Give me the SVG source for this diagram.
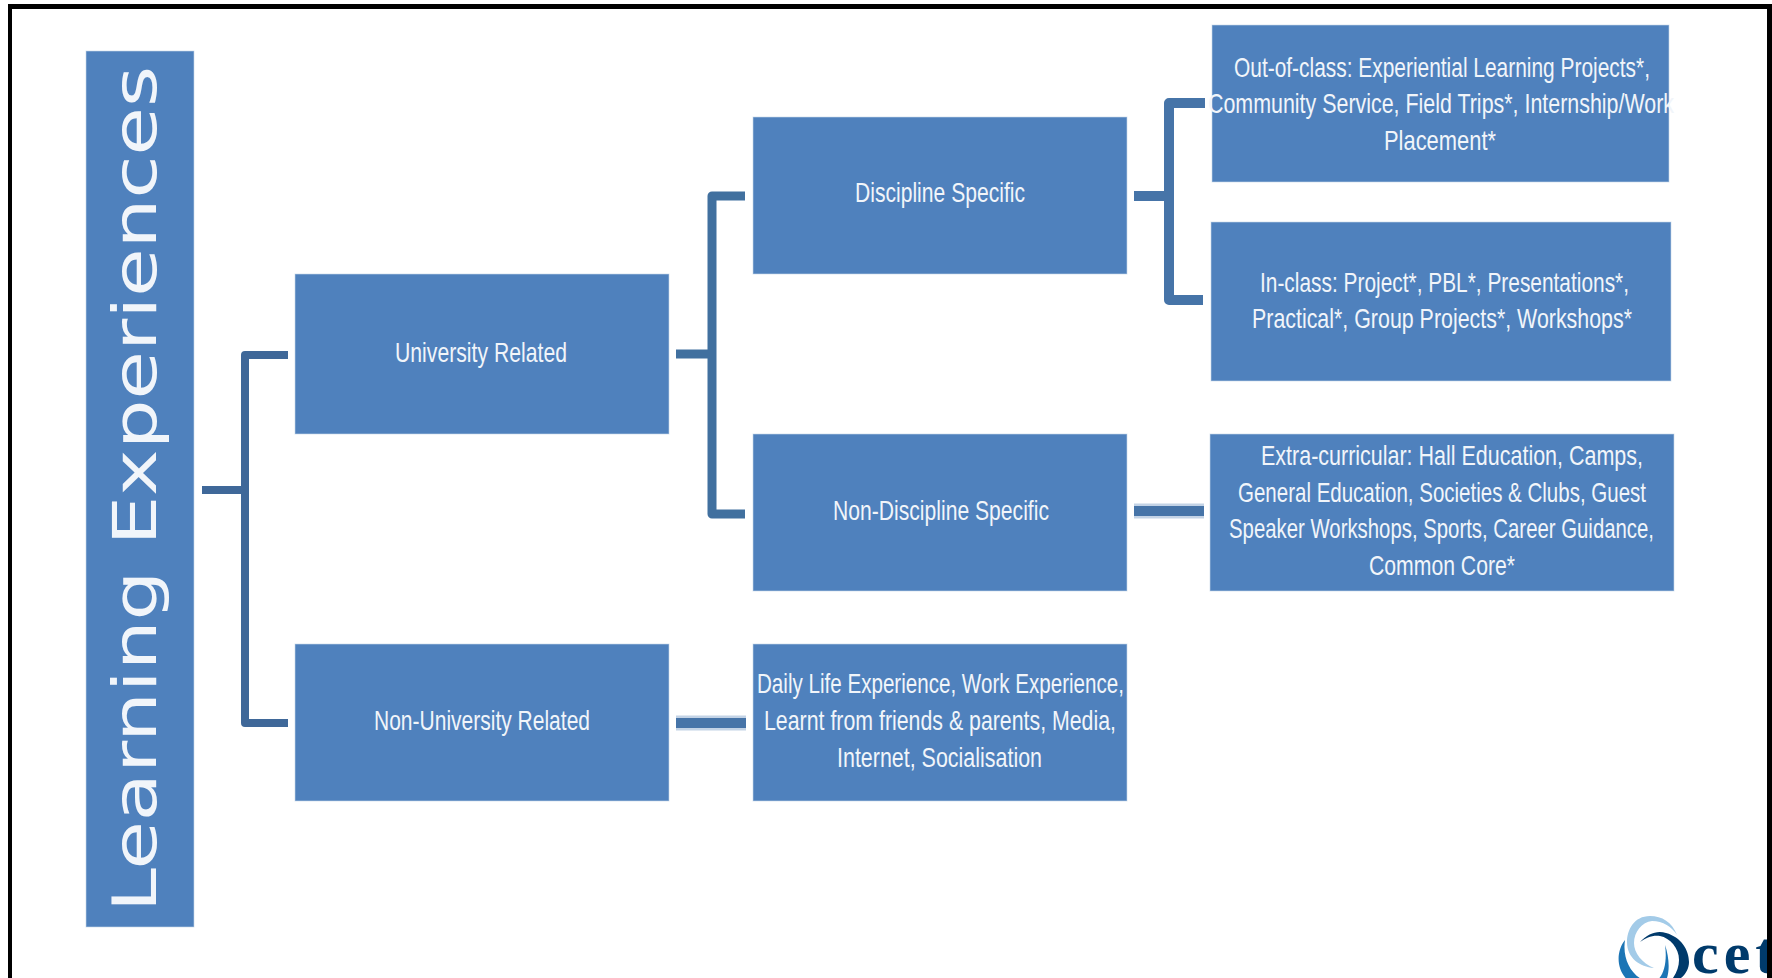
<svg xmlns="http://www.w3.org/2000/svg" width="1772" height="978" viewBox="0 0 1772 978">
<style>
.box{fill:#4f81bd;stroke:#c9d8ea;stroke-width:1;stroke-opacity:.6}
.t{font-family:"Liberation Sans",Arial,sans-serif;font-size:28px;fill:#f1f5fa}
.title{font-family:"DejaVu Sans",sans-serif;font-size:60px;fill:#f1f5fa}
.c{fill:none;stroke-linejoin:round}
.c1{stroke:#3f6899;stroke-width:8}
.c2{stroke:#41709f;stroke-width:9}
.c3{stroke:#4674a8;stroke-width:10}
.halo{fill:none;stroke:#c3d3e6;stroke-width:15}
.frame{fill:#000}
</style>
<rect width="1772" height="978" fill="#fff"/>
<g id="connectors">
<path class="c c1" d="M202 490H245M288 355H245V723H288"/>
<path class="c c2" d="M676 354H712M745 196H712V514H745"/>
<path class="c c3" d="M1134 196H1169M1205 103H1169V300H1203"/>
<path class="halo" d="M1134 511H1204M676 723H746"/>
<path class="c c3" d="M1134 511H1204M676 723H746"/>
</g>
<g id="node-learning-experiences">
<rect class="box" x="86" y="51" width="108" height="876"/>
<text class="title" transform="translate(156 912) rotate(-90)" textLength="846" lengthAdjust="spacingAndGlyphs">Learning Experiences</text>
</g>
<g id="node-university-related">
<rect class="box" x="295" y="274" width="374" height="160"/>
<text class="t" x="395" y="362" textLength="172" lengthAdjust="spacingAndGlyphs">University Related</text>
</g>
<g id="node-non-university-related">
<rect class="box" x="295" y="644" width="374" height="157"/>
<text class="t" x="374" y="730" textLength="216" lengthAdjust="spacingAndGlyphs">Non-University Related</text>
</g>
<g id="node-discipline-specific">
<rect class="box" x="753" y="117" width="374" height="157"/>
<text class="t" x="855" y="202" textLength="170" lengthAdjust="spacingAndGlyphs">Discipline Specific</text>
</g>
<g id="node-non-discipline-specific">
<rect class="box" x="753" y="434" width="374" height="157"/>
<text class="t" x="833" y="520" textLength="216" lengthAdjust="spacingAndGlyphs">Non-Discipline Specific</text>
</g>
<g id="node-daily-life">
<rect class="box" x="753" y="644" width="374" height="157"/>
<text class="t" x="757" y="693" textLength="367" lengthAdjust="spacingAndGlyphs">Daily Life Experience, Work Experience,</text>
<text class="t" x="764" y="730" textLength="352" lengthAdjust="spacingAndGlyphs">Learnt from friends &amp; parents, Media,</text>
<text class="t" x="837" y="767" textLength="205" lengthAdjust="spacingAndGlyphs">Internet, Socialisation</text>
</g>
<g id="node-out-of-class">
<rect class="box" x="1212" y="25" width="457" height="157"/>
<text class="t" x="1234" y="77" textLength="416" lengthAdjust="spacingAndGlyphs">Out-of-class: Experiential Learning Projects*,</text>
<text class="t" x="1208" y="113" textLength="466" lengthAdjust="spacingAndGlyphs">Community Service, Field Trips*, Internship/Work</text>
<text class="t" x="1384" y="150" textLength="112" lengthAdjust="spacingAndGlyphs">Placement*</text>
</g>
<g id="node-in-class">
<rect class="box" x="1211" y="222" width="460" height="159"/>
<text class="t" x="1260" y="292" textLength="369" lengthAdjust="spacingAndGlyphs">In-class: Project*, PBL*, Presentations*,</text>
<text class="t" x="1252" y="328" textLength="380" lengthAdjust="spacingAndGlyphs">Practical*, Group Projects*, Workshops*</text>
</g>
<g id="node-extra-curricular">
<rect class="box" x="1210" y="434" width="464" height="157"/>
<text class="t" x="1261" y="465" textLength="382" lengthAdjust="spacingAndGlyphs">Extra-curricular: Hall Education, Camps,</text>
<text class="t" x="1238" y="502" textLength="408" lengthAdjust="spacingAndGlyphs">General Education, Societies &amp; Clubs, Guest</text>
<text class="t" x="1229" y="538" textLength="425" lengthAdjust="spacingAndGlyphs">Speaker Workshops, Sports, Career Guidance,</text>
<text class="t" x="1369" y="575" textLength="146" lengthAdjust="spacingAndGlyphs">Common Core*</text>
</g>
<path fill="#a3cbe8" d="M1677 935C1672 922 1662 916 1650 916C1634 916 1627 930 1627 942C1627 958 1640 967 1654 968C1642 963 1634 953 1634 943C1634 932 1642 922 1652 921C1663 921 1672 927 1677 935Z"/>
<path fill="#1c75b5" d="M1625 940C1613 955 1616 985 1650 990C1670 992 1672 965 1665 945C1668 965 1662 985 1648 982C1632 977 1622 960 1625 940Z"/>
<path fill="#003a6b" d="M1640 942C1648 933 1658 930 1666 933C1681 937 1689 950 1689 962C1689 968 1686 974 1681 978L1673 978C1677 972 1679 966 1679 960C1679 948 1670 938 1660 936C1652 935 1646 938 1640 942Z"/>
<text x="1692" y="973" font-family="'Liberation Serif',serif" font-weight="700" font-size="60" letter-spacing="5" fill="#003a6b">cet</text>
<rect class="frame" x="8" y="4" width="1764" height="5"/>
<rect class="frame" x="8" y="4" width="4" height="974"/>
<rect class="frame" x="1767" y="4" width="5" height="974"/>
</svg>
